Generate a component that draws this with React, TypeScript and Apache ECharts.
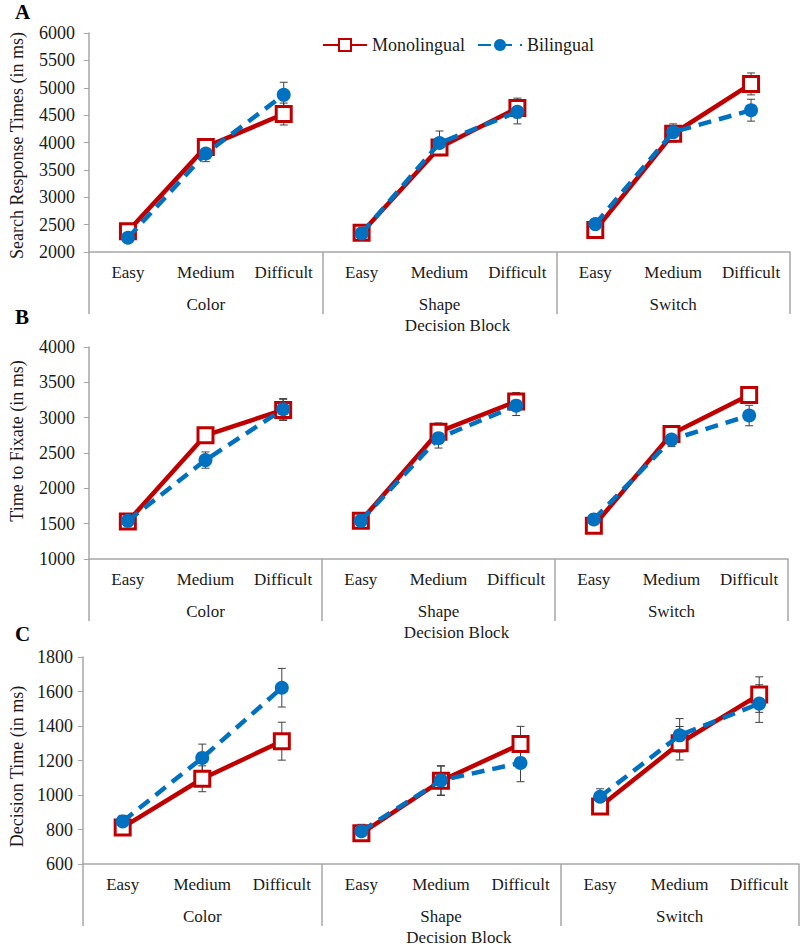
import React, { useEffect, useRef } from "react";
import * as echarts from "echarts";

const levels = ["Easy", "Medium", "Difficult"];
const blocks = ["Color", "Shape", "Switch"];
const categories = blocks.flatMap(() => levels);

// Panel A: Search Response Times
const aMono = [2380, 3920, 4520, 2350, 3910, 4630, 2400, 4160, 5070];
const aBi = [2260, 3800, 4870, 2340, 3990, 4560, 2510, 4190, 4590];
const aMonoErr = [40, 60, 200, 40, 150, 180, 40, 150, 200];
const aBiErr = [40, 150, 230, 40, 220, 220, 50, 150, 200];

// Panel B: Time to Fixate
const bMono = [1530, 2750, 3110, 1540, 2800, 3230, 1470, 2770, 3320];
const bBi = [1540, 2400, 3120, 1540, 2710, 3170, 1560, 2690, 3030];
const bMonoErr = [40, 90, 150, 40, 125, 125, 40, 90, 115];
const bBiErr = [40, 115, 150, 40, 140, 140, 40, 100, 145];

// Panel C: Decision Time
const cMono = [812, 1094, 1312, 778, 1082, 1295, 933, 1300, 1582];
const cBi = [847, 1215, 1622, 790, 1085, 1186, 990, 1346, 1530];
const cMonoErr = [35, 75, 110, 40, 85, 103, 40, 97, 103];
const cBiErr = [35, 80, 112, 40, 85, 109, 46, 97, 109];

const yTitles = ["Search Response Times (in ms)", "Time to Fixate (in ms)", "Decision Time (in ms)"];
const yMin = [2000, 1000, 600];
const yMax = [6000, 4000, 1800];
const yInterval = [500, 500, 200];
const panelLetters = ["A", "B", "C"];

const RED = "#C00000";
const BLUE = "#0070C0";
const AXIS = "#a6a6a6";
const TXT = "#1a1a1a";
const FONT = "Liberation Serif";
const FS = 17;

const panels = [
  { mono: aMono, bi: aBi, monoErr: aMonoErr, biErr: aBiErr },
  { mono: bMono, bi: bBi, monoErr: bMonoErr, biErr: bBiErr },
  { mono: cMono, bi: cBi, monoErr: cMonoErr, biErr: cBiErr },
];

const grids = [
  { left: 87, right: 10, top: 33, height: 219 },
  { left: 80, right: 12, top: 347, height: 212 },
  { left: 78, right: 1, top: 657, height: 209 },
];
const yLabelMargin = [14, 14, 10];
const yNameGap = [63, 63, 54];
const yNamePadding = [
  [0, 6, 0, 0],
  [0, 0, 0, 24],
  [0, 12, 0, 0],
];
const letterTop = [1, 306, 623];

function errRender(params: any, api: any) {
  const x = api.value(0);
  const lo = api.coord([x, api.value(1)]);
  const hi = api.coord([x, api.value(2)]);
  const w = 4;
  const st = { stroke: "#404040", lineWidth: 1 };
  return {
    type: "group",
    children: [
      { type: "line", shape: { x1: lo[0], y1: lo[1], x2: hi[0], y2: hi[1] }, style: st },
      { type: "line", shape: { x1: lo[0] - w, y1: lo[1], x2: lo[0] + w, y2: lo[1] }, style: st },
      { type: "line", shape: { x1: hi[0] - w, y1: hi[1], x2: hi[0] + w, y2: hi[1] }, style: st },
    ],
  };
}

function buildOption() {
  const xAxis: any[] = [];
  const yAxis: any[] = [];
  const series: any[] = [];
  panels.forEach((p, pi) => {
    xAxis.push({
      type: "category",
      gridIndex: pi,
      data: categories,
      boundaryGap: true,
      axisLine: { lineStyle: { color: AXIS, width: 1.5 } },
      axisTick: { show: false },
      axisLabel: { interval: 0, margin: 12, fontSize: FS, color: TXT, fontFamily: FONT },
    });
    xAxis.push({
      type: "category",
      gridIndex: pi,
      data: blocks,
      position: "bottom",
      boundaryGap: true,
      axisLine: { show: false },
      axisTick: { show: true, interval: 0, length: 62, lineStyle: { color: AXIS, width: 1.5 } },
      axisLabel: { interval: 0, margin: 44, fontSize: FS, color: TXT, fontFamily: FONT },
      name: "Decision Block",
      nameLocation: "middle",
      nameGap: 65,
      nameTextStyle: { fontSize: FS, color: TXT, fontFamily: FONT, padding: [0, 0, 0, 36] },
    });
    yAxis.push({
      type: "value",
      gridIndex: pi,
      min: yMin[pi],
      max: yMax[pi],
      interval: yInterval[pi],
      splitLine: { show: false },
      axisLine: { show: true, lineStyle: { color: AXIS, width: 1.5 } },
      axisTick: { show: true, length: 5, lineStyle: { color: AXIS } },
      axisLabel: {
        margin: yLabelMargin[pi],
        fontSize: FS + 1,
        color: TXT,
        fontFamily: FONT,
        formatter: (v: number) => String(v),
      },
      name: yTitles[pi],
      nameLocation: "middle",
      nameGap: yNameGap[pi],
      nameTextStyle: { fontSize: 18, color: TXT, fontFamily: FONT, padding: yNamePadding[pi] },
    });
    const xi = pi * 2;
    series.push({
      type: "custom",
      name: "errMono" + pi,
      xAxisIndex: xi,
      yAxisIndex: pi,
      renderItem: errRender,
      encode: { x: 0, y: [1, 2] },
      data: p.mono.map((v, i) => [i, v - p.monoErr[i], v + p.monoErr[i]]),
      z: 1,
      silent: true,
    });
    series.push({
      type: "custom",
      name: "errBi" + pi,
      xAxisIndex: xi,
      yAxisIndex: pi,
      renderItem: errRender,
      encode: { x: 0, y: [1, 2] },
      data: p.bi.map((v, i) => [i, v - p.biErr[i], v + p.biErr[i]]),
      z: 1,
      silent: true,
    });
    blocks.forEach((_, bi) => {
      series.push({
        type: "line",
        name: "Monolingual",
        xAxisIndex: xi,
        yAxisIndex: pi,
        data: p.mono.map((v, i) => (Math.floor(i / 3) === bi ? v : "-")),
        symbol: "rect",
        symbolSize: 15,
        showAllSymbol: true,
        itemStyle: { color: "#ffffff", borderColor: RED, borderWidth: 3 },
        lineStyle: { color: RED, width: 4.5 },
        z: 2,
      });
      series.push({
        type: "line",
        name: "Bilingual",
        xAxisIndex: xi,
        yAxisIndex: pi,
        data: p.bi.map((v, i) => (Math.floor(i / 3) === bi ? v : "-")),
        symbol: "circle",
        symbolSize: 14,
        showAllSymbol: true,
        itemStyle: { color: BLUE, borderWidth: 0 },
        lineStyle: { color: BLUE, width: 4.5, type: [13, 8] },
        z: 3,
      });
    });
  });

  return {
    animation: false,
    backgroundColor: "#ffffff",
    textStyle: { fontFamily: FONT },
    grid: grids,
    xAxis,
    yAxis,
    series,
    legend: {
      data: ["Monolingual", "Bilingual"],
      left: 317,
      top: 31,
      itemWidth: 44,
      itemHeight: 15,
      itemGap: 12,
      textStyle: { fontSize: 18, color: TXT, fontFamily: FONT },
    },
    graphic: panelLetters.map((t, i) => ({
      type: "text",
      left: 15,
      top: letterTop[i],
      style: { text: t, font: `bold 21px ${FONT}`, fill: "#000" },
    })),
  };
}

export default function App() {
  const ref = useRef<HTMLDivElement>(null);
  useEffect(() => {
    if (!ref.current) return;
    const chart = echarts.init(ref.current, null, { renderer: "svg" });
    chart.setOption(buildOption() as any);
    return () => chart.dispose();
  }, []);
  return (
    <div
      ref={ref}
      style={{ position: "fixed", left: 0, top: 0, width: 800, height: 947, background: "#fff" }}
    />
  );
}
